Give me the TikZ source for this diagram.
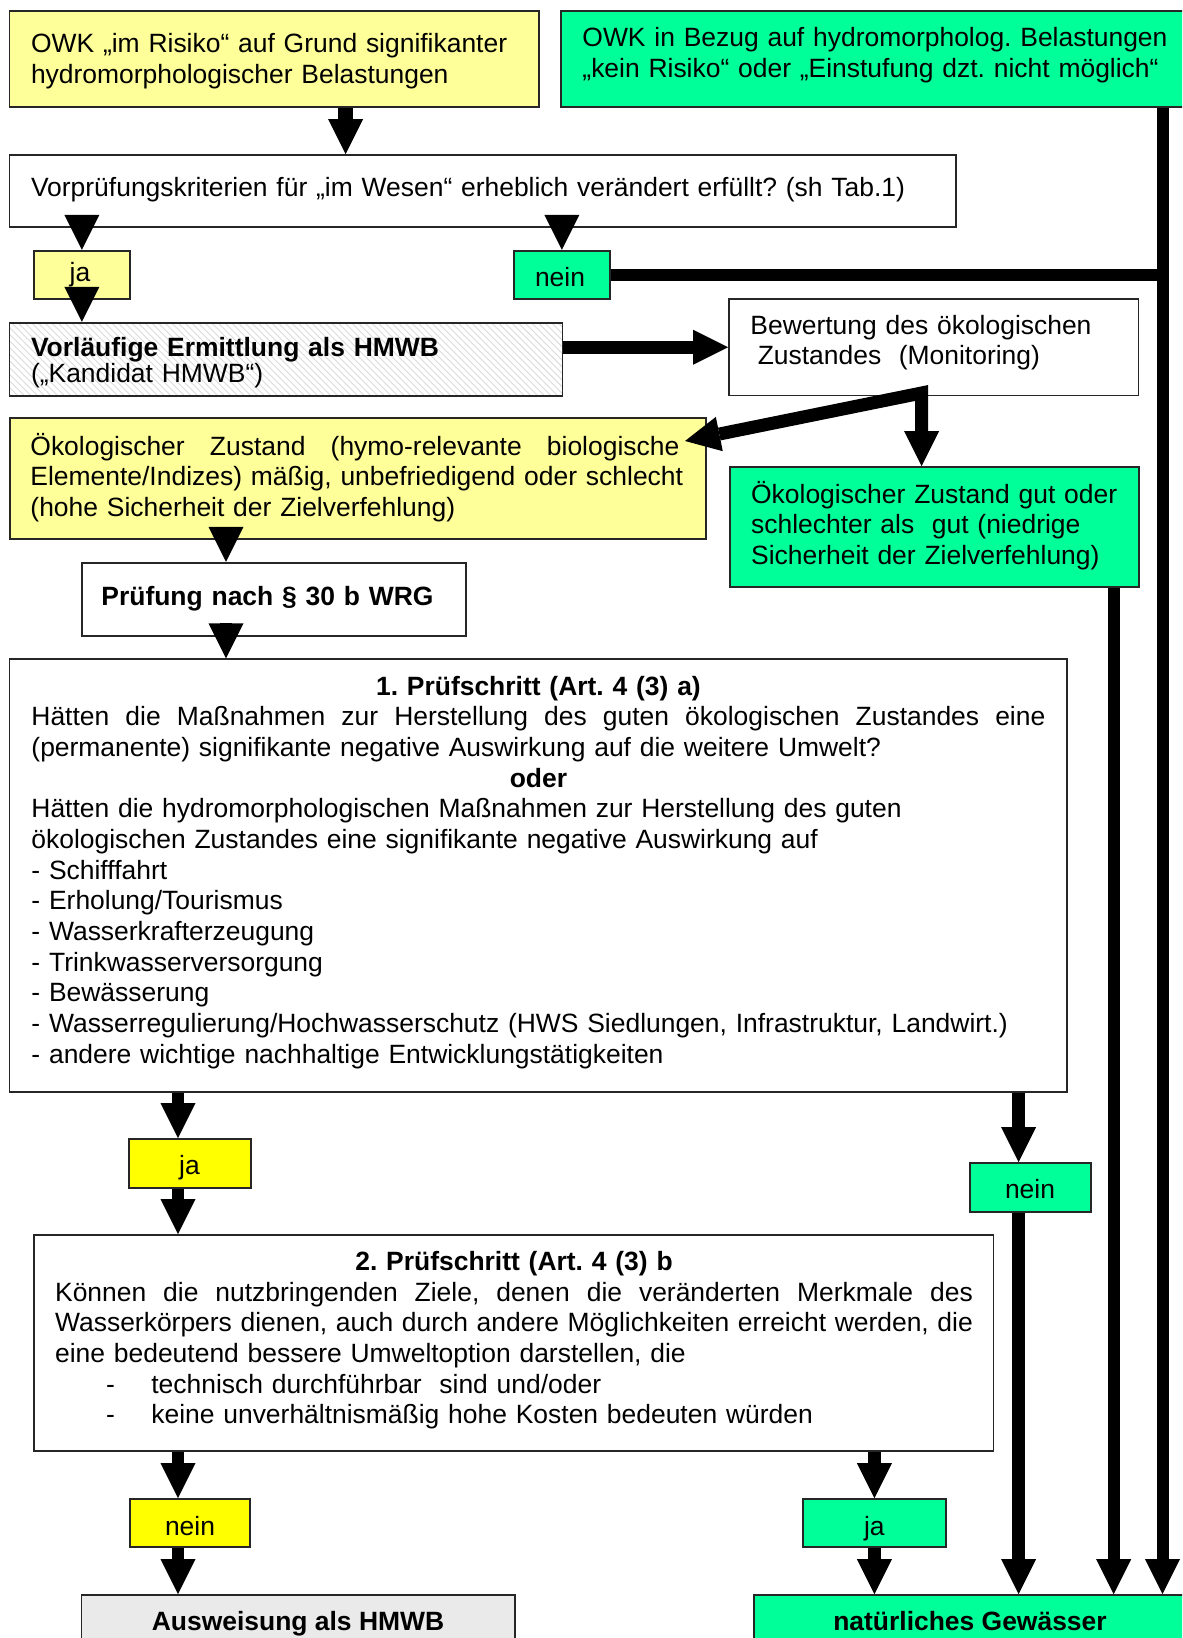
\documentclass[tikz,border=0pt]{standalone}
\usepackage{fontspec}
\setmainfont{Liberation Sans}
\usetikzlibrary{arrows.meta,patterns,fit}
\definecolor{ylight}{HTML}{FFFF99}
\definecolor{ybright}{HTML}{FFFF00}
\definecolor{grn}{HTML}{00FF99}
\definecolor{lgray}{HTML}{EAEAEA}
\newcommand\jline[2]{\makebox[#1][s]{\spaceskip=\fontdimen2\font plus 1fil minus .33\fontdimen2\font\relax #2}}
\frenchspacing
\begin{document}
\begin{tikzpicture}[x=0.45pt,y=-0.45pt,
  >={Triangle[length=15.75pt,width=15.75pt,line width=0pt]},
  box/.style={draw=black!85, line width=0.75pt, inner sep=0pt, rectangle},
  txt/.style={inner sep=0pt, anchor=base west, align=left, text width=300pt, font=\fontsize{11.9pt}{13.8pt}\selectfont\frenchspacing},
  lab/.style={inner sep=0pt, anchor=base, font=\fontsize{11.9pt}{13.8pt}\selectfont\frenchspacing},
  arr/.style={->, line width=5.6pt},
  thick line/.style={line width=5.6pt},
]
\path[use as bounding box] (0,0) rectangle (1182,1638);
\clip (0,0) rectangle (1182,1638);

% ---------- boxes ----------
\node[box, fill=ylight, fit={(9.6,11) (539,107)}] (A) {};
\node[box, fill=grn, fit={(561,11) (1200,107)}] (B) {};
\node[box, fill=white, fit={(9.6,155) (956,227)}] (C) {};
\node[box, fill=ylight, fit={(33.7,250.7) (130,299)}] (jaA) {};
\node[box, fill=grn, fit={(514,250.7) (609.7,299)}] (neinA) {};
\node[box, pattern=north west lines, pattern color=black!14, fit={(9.6,322.7) (562.6,395.7)}] (D) {};
\node[box, fill=white, fit={(729,299) (1138.5,395.5)}] (E) {};
\node[box, fill=ylight, fit={(10,418) (706,539)}] (F) {};
\node[box, fill=grn, fit={(730,467) (1139,587)}] (G) {};
\node[box, fill=white, fit={(81.7,562.7) (466,636)}] (H) {};
\node[box, fill=white, fit={(9.6,659.3) (1067,1091.7)}] (I) {};
\node[box, fill=ybright, fit={(129,1139) (250.7,1187.7)}] (jaB) {};
\node[box, fill=grn, fit={(969.7,1163) (1090.7,1211.7)}] (neinB) {};
\node[box, fill=white, fit={(33.7,1235) (993.5,1450.7)}] (J) {};
\node[box, fill=ybright, fit={(129.7,1499) (250,1547)}] (neinC) {};
\node[box, fill=grn, fit={(802.8,1499) (946,1547)}] (jaC) {};
\node[box, fill=lgray, fit={(81.4,1595) (514.8,1665)}] (K) {};
\node[box, fill=grn, fit={(753.8,1595) (1200,1665)}] (L) {};

% ---------- texts ----------
\node[txt] (At) at (30.6,53) {OWK „im Risiko“ auf Grund signifikanter\\hydromorphologischer Belastungen};
\node[txt] (Bt) at (582,46.5) {OWK in Bezug auf hydromorpholog. Belastungen\\„kein Risiko“ oder „Einstufung dzt. nicht möglich“};
\node[txt, text width=480pt] (Ct) at (30.6,197) {Vorprüfungskriterien für „im Wesen“ erheblich verändert erfüllt? (sh Tab.1)};
\node[lab] (jaAt) at (80,281) {ja};
\node[lab] (neinAt) at (560,286) {nein};
\node[txt, font=\fontsize{11.9pt}{11.7pt}\selectfont\frenchspacing] (Dt) at (30.6,356) {\textbf{Vorläufige Ermittlung als HMWB}\\(„Kandidat HMWB“)};
\node[txt] (Et) at (750,334) {Bewertung des ökologischen\\\hspace*{0.278em}Zustandes\ \ (Monitoring)};
\node[txt, text width=310pt] (Ft) at (30,455) {\jline{292pt}{Ökologischer Zustand (hymo-relevante biologische}\\Elemente/Indizes) mäßig, unbefriedigend oder schlecht\\(hohe Sicherheit der Zielverfehlung)};
\node[txt] (Gt) at (750.7,503) {Ökologischer Zustand gut oder\\schlechter als\ \ gut (niedrige\\Sicherheit der Zielverfehlung)};
\node[txt] (Ht) at (101,605) {\textbf{Prüfung nach § 30 b WRG}};
\node[txt, text width=456.3pt] (It) at (31,695) {\makebox[456.3pt][c]{\bfseries 1. Prüfschritt (Art. 4 (3) a)}\\
\jline{456.3pt}{Hätten die Maßnahmen zur Herstellung des guten ökologischen Zustandes eine}\\
(permanente) signifikante negative Auswirkung auf die weitere Umwelt?\\
\makebox[456.3pt][c]{\bfseries oder}\\
Hätten die hydromorphologischen Maßnahmen zur Herstellung des guten\\
ökologischen Zustandes eine signifikante negative Auswirkung auf\\
- Schifffahrt\\
- Erholung/Tourismus\\
- Wasserkrafterzeugung\\
- Trinkwasserversorgung\\
- Bewässerung\\
- Wasserregulierung/Hochwasserschutz (HWS Siedlungen, Infrastruktur, Landwirt.)\\
- andere wichtige nachhaltige Entwicklungstätigkeiten};
\node[lab] (jaBt) at (189.5,1174) {ja};
\node[lab] (neinBt) at (1030,1198) {nein};
\node[txt, text width=420pt] (Jt) at (54.7,1270.5) {\makebox[413pt][c]{\bfseries 2. Prüfschritt (Art. 4 (3) b}\\
\jline{413pt}{Können die nutzbringenden Ziele, denen die veränderten Merkmale des}\\
\jline{413pt}{Wasserkörpers dienen, auch durch andere Möglichkeiten erreicht werden, die}\\
eine bedeutend bessere Umweltoption darstellen, die\\
\hspace*{22.9pt}\makebox[20.4pt][l]{-}technisch durchführbar\ \ sind und/oder\\
\hspace*{22.9pt}\makebox[20.4pt][l]{-}keine unverhältnismäßig hohe Kosten bedeuten würden};
\node[lab] (neinCt) at (190,1535) {nein};
\node[lab] (jaCt) at (874.4,1535) {ja};
\node[lab] (Kt) at (298,1630) {\textbf{Ausweisung als HMWB}};
\node[lab] (Lt) at (970,1630) {\textbf{natürliches Gewässer}};

% ---------- reference x positions / free ends ----------
\coordinate (xAC) at (345.6,0);
\coordinate (xV) at (1162.5,0);
\coordinate (xP) at (921.6,0);
\coordinate (xFH) at (226,0);
\coordinate (xJa) at (178,0);
\coordinate (xN) at (1018.6,0);
\coordinate (xG) at (1113.7,0);
\coordinate (tipF) at (685,441);

% ---------- connectors ----------
\draw[arr, line width=6.8pt] (A.south -| xAC) -- (C.north -| xAC);
\draw[arr] (C.south -| jaA.north) -- (jaA.north);
\draw[arr] (C.south -| neinA.north) -- (neinA.north);
\draw[arr] (jaA.south) -- (jaA.south |- D.north);
\draw[thick line] (neinA.east) -- (neinA.east -| xV);
\draw[arr, line width=5.4pt] (B.south -| xV) -- (L.north -| xV);
\draw[arr, line width=5.85pt] (E.west -| D.east) -- (E.west);
\draw[<->, line width=5.85pt, line join=miter] (tipF) -- ([yshift=1.5pt]E.south -| xP) -- (G.north -| xP);
\draw[arr] (F.south -| xFH) -- (H.north -| xFH);
\draw[arr] (H.south -| xFH) -- (I.north -| xFH);
\draw[arr, line width=5.4pt] (G.south -| xG) -- (L.north -| xG);
\draw[arr] (I.south -| xJa) -- (jaB.north -| xJa);
\draw[arr] (jaB.south -| xJa) -- (J.north -| xJa);
\draw[arr] (I.south -| xN) -- (neinB.north -| xN);
\draw[arr] (neinB.south -| xN) -- (L.north -| xN);
\draw[arr] (J.south -| xJa) -- (neinC.north -| xJa);
\draw[arr] (neinC.south -| xJa) -- (K.north -| xJa);
\draw[arr] (J.south -| jaC.north) -- (jaC.north);
\draw[arr] (jaC.south) -- (jaC.south |- L.north);
\end{tikzpicture}
\end{document}
